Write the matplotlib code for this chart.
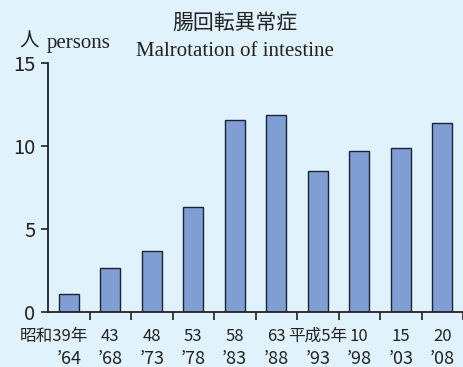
import matplotlib
matplotlib.use("Agg")
import matplotlib.pyplot as plt
import matplotlib.transforms as mtransforms

plt.rcParams['font.family'] = ['Noto Sans CJK JP', 'DejaVu Sans']

# Data
era_labels = ["昭和39年", "43", "48", "53", "58", "63", "平成5年", "10", "15", "20"]
year_labels = ["’64", "’68", "’73", "’78", "’83", "’88", "’93", "’98", "’03", "’08"]
values = [1.07, 2.63, 3.69, 6.31, 11.55, 11.87, 8.47, 9.70, 9.86, 11.40]
yticks = [0, 5, 10, 15]

bg = "#E0F2FC"
bar_color = "#7F9FD4"
edge = "#1C2233"
axis_color = "#222222"

fig = plt.figure(figsize=(4.64, 3.67), dpi=100, facecolor=bg)
ax = fig.add_axes([48/464, 55/367, 415/464, 249/367])
ax.set_facecolor(bg)

x = list(range(len(values)))
ax.bar(x, values, width=0.49, color=bar_color, edgecolor=edge, linewidth=1.0, zorder=2)

ax.set_xlim(-0.5, len(values) - 0.5)
ax.set_ylim(0, 15)

for s in ["top", "right"]:
    ax.spines[s].set_visible(False)
for s in ["left", "bottom"]:
    ax.spines[s].set_color(axis_color)
    ax.spines[s].set_linewidth(1.3)

ax.set_yticks(yticks)
ax.set_yticklabels([str(v) for v in yticks], fontsize=14.5, color="#222222")
ax.tick_params(axis='y', direction='out', length=5, width=1.2, color=axis_color, pad=4)

ax.set_xticks([i + 0.5 for i in x])
ax.set_xticklabels([])
ax.tick_params(axis='x', direction='out', length=6, width=1.2, color=axis_color)

trans = mtransforms.blended_transform_factory(ax.transData, fig.transFigure)
offsets = {0: -15, 6: 0}
for i, (e, yl) in enumerate(zip(era_labels, year_labels)):
    off = offsets.get(i, 0)
    t = trans + mtransforms.ScaledTranslation(off / 100, 0, fig.dpi_scale_trans)
    ax.text(i, 0.071, e, transform=t, ha='center', va='baseline',
            fontsize=12, color="#222222", clip_on=False)
    ax.text(i, 0.008, yl, transform=trans, ha='center', va='baseline',
            fontsize=13, color="#222222", clip_on=False)

fig.text(235/464, 1 - 23/367, "腸回転異常症", ha='center', va='center',
         fontsize=15, color="#222222")
fig.text(235/464, 1 - 56/367, "Malrotation of intestine", ha='center', va='baseline',
         fontsize=15, family='Liberation Serif', color="#222222")
fig.text(29/464, 1 - 41/367, "人", ha='center', va='center', fontsize=14, color="#222222")
fig.text(47/464, 1 - 48/367, "persons", ha='left', va='baseline',
         fontsize=15, family='Liberation Serif', color="#222222")

fig.savefig("out.png", dpi=100, facecolor=bg)
